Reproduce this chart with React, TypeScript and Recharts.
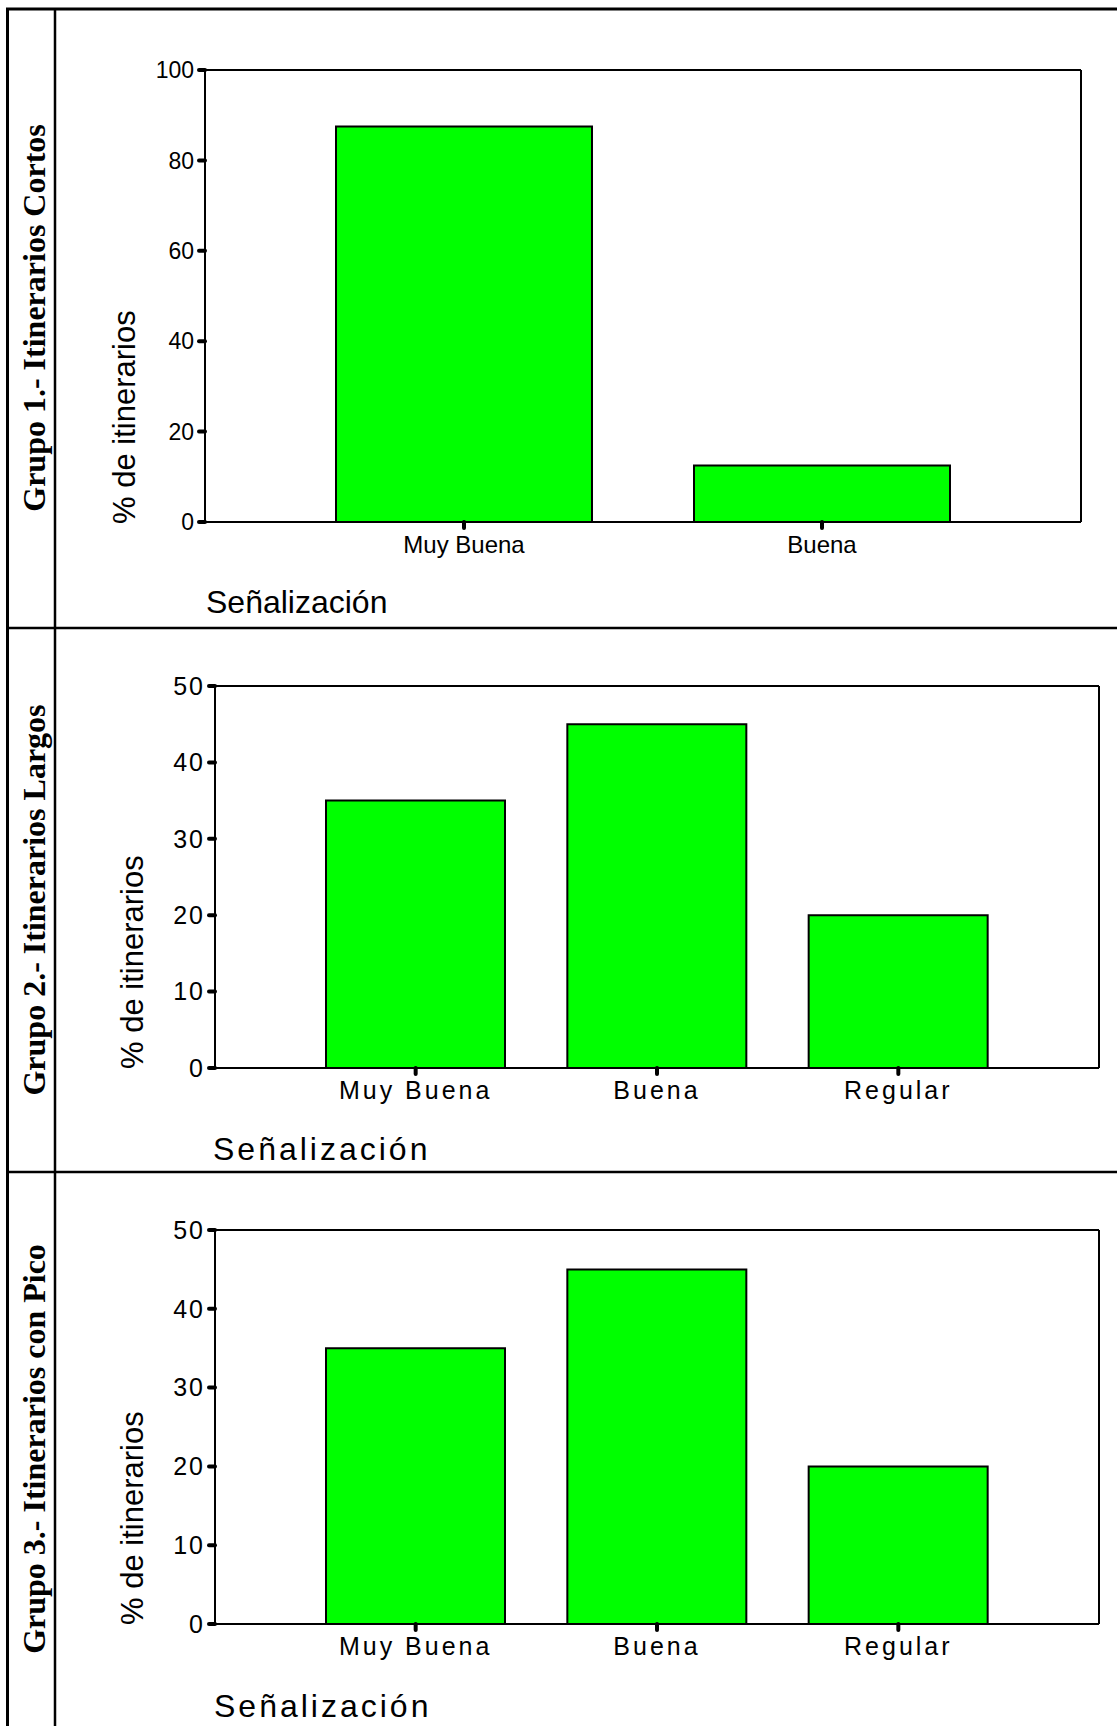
import React from "react";
import { Bar, BarChart, XAxis, YAxis } from "recharts";

const categoriesCortos = ["Muy Buena", "Buena"];
const valuesCortos = [87.5, 12.5];
const categoriesLargos = ["Muy Buena", "Buena", "Regular"];
const valuesLargos = [35, 45, 20];
const categoriesPico = ["Muy Buena", "Buena", "Regular"];
const valuesPico = [35, 45, 20];
const ticksCortos = [0, 20, 40, 60, 80, 100];
const ticksLargos = [0, 10, 20, 30, 40, 50];
const groupTitles = [
  "Grupo 1.- Itinerarios Cortos",
  "Grupo 2.- Itinerarios Largos",
  "Grupo 3.- Itinerarios con Pico",
];
const yTitle = "% de itinerarios";
const xTitle = "Señalización";

const SANS = "'Liberation Sans', Arial, sans-serif";
const SERIF = "'Liberation Serif', 'Times New Roman', serif";
const GREEN = "#00ff00";

// axis boxes reserved inside the chart; margins below are reduced by these
const Y_W = 60;
const X_H = 40;

type PanelProps = {
  categories: string[];
  values: number[];
  ticks: number[];
  top: number;
  height: number;
  plot: { top: number; right: number; bottom: number; left: number };
  barSize: number;
  xFont: number;
  yFont: number;
  xSpacing: number;
  ySpacing: number;
  xTickMargin: number;
  yTickMargin: number;
};

function Panel(p: PanelProps) {
  const data = p.categories.map((c, i) => ({ cat: c, pct: p.values[i] }));
  const max = p.ticks[p.ticks.length - 1];
  const frame = { stroke: "#000", strokeWidth: 2 };
  const tickLine = { stroke: "#000", strokeWidth: 4, strokeLinecap: "round" as const };
  const margin = {
    top: p.plot.top - 1,
    right: p.plot.right - 1,
    bottom: p.plot.bottom - X_H,
    left: p.plot.left - Y_W,
  };
  return (
    <div style={{ position: "absolute", left: 0, top: p.top }}>
      <BarChart width={1117} height={p.height} data={data} margin={margin} barSize={p.barSize}>
        <XAxis
          dataKey="cat"
          height={X_H}
          padding={{ left: 80, right: 80 }}
          axisLine={frame}
          tickLine={tickLine}
          tickSize={6}
          tickMargin={p.xTickMargin}
          interval={0}
          tick={{ fill: "#000", fontSize: p.xFont, fontFamily: SANS, style: { letterSpacing: p.xSpacing } }}
        />
        <XAxis
          xAxisId="top"
          orientation="top"
          dataKey="cat"
          height={1}
          axisLine={frame}
          tick={false}
          tickLine={false}
        />
        <YAxis
          width={Y_W}
          domain={[0, max]}
          ticks={p.ticks}
          axisLine={frame}
          tickLine={tickLine}
          tickSize={6}
          tickMargin={p.yTickMargin}
          tick={{ fill: "#000", fontSize: p.yFont, fontFamily: SANS, style: { letterSpacing: p.ySpacing } }}
        />
        <YAxis
          yAxisId="right"
          orientation="right"
          width={1}
          domain={[0, max]}
          axisLine={frame}
          tick={false}
          tickLine={false}
        />
        <Bar dataKey="pct" fill={GREEN} stroke="#000" strokeWidth={2} isAnimationActive={false} />
      </BarChart>
    </div>
  );
}

export default function App() {
  const rowCenters = [318, 900, 1449];
  const yTitles = [
    { x: 135, y: 524 },
    { x: 143, y: 1069 },
    { x: 143, y: 1625 },
  ];
  const xTitles = [
    { x: 206, y: 613, ls: 0 },
    { x: 213, y: 1160, ls: 3 },
    { x: 214, y: 1717, ls: 3 },
  ];
  return (
    <div style={{ position: "absolute", left: 0, top: 0, width: 1117, height: 1726, background: "#fff", overflow: "hidden" }}>
      <svg width={1117} height={1726} style={{ position: "absolute", left: 0, top: 0 }}>
        <line x1={7.5} y1={9} x2={7.5} y2={1726} stroke="#000" strokeWidth={3} />
        <line x1={6} y1={9} x2={1117} y2={9} stroke="#000" strokeWidth={3} />
        <line x1={55} y1={9} x2={55} y2={1726} stroke="#000" strokeWidth={2.5} />
        <line x1={6} y1={628} x2={1117} y2={628} stroke="#000" strokeWidth={2.5} />
        <line x1={6} y1={1172} x2={1117} y2={1172} stroke="#000" strokeWidth={2.5} />
        {groupTitles.map((t, i) => (
          <text
            key={t}
            transform={`translate(45,${rowCenters[i]}) rotate(-90)`}
            textAnchor="middle"
            fontFamily={SERIF}
            fontWeight="bold"
            fontSize={32}
            fill="#000"
          >
            {t}
          </text>
        ))}
        {yTitles.map((t, i) => (
          <text
            key={i}
            transform={`translate(${t.x},${t.y}) rotate(-90)`}
            textAnchor="start"
            fontFamily={SANS}
            fontSize={31}
            fill="#000"
          >
            {yTitle}
          </text>
        ))}
        {xTitles.map((t, i) => (
          <text key={i} x={t.x} y={t.y} fontFamily={SANS} fontSize={32} fill="#000" style={{ letterSpacing: t.ls }}>
            {xTitle}
          </text>
        ))}
      </svg>
      <Panel
        categories={categoriesCortos}
        values={valuesCortos}
        ticks={ticksCortos}
        top={0}
        height={628}
        plot={{ top: 70, right: 36, bottom: 106, left: 205 }}
        barSize={256}
        xFont={24}
        yFont={23}
        xSpacing={0}
        ySpacing={0}
        xTickMargin={8}
        yTickMargin={5}
      />
      <Panel
        categories={categoriesLargos}
        values={valuesLargos}
        ticks={ticksLargos}
        top={628}
        height={544}
        plot={{ top: 58, right: 18, bottom: 104, left: 215 }}
        barSize={179}
        xFont={25}
        yFont={25}
        xSpacing={3}
        ySpacing={2}
        xTickMargin={7}
        yTickMargin={4}
      />
      <Panel
        categories={categoriesPico}
        values={valuesPico}
        ticks={ticksLargos}
        top={1172}
        height={554}
        plot={{ top: 58, right: 18, bottom: 102, left: 215 }}
        barSize={179}
        xFont={25}
        yFont={25}
        xSpacing={3}
        ySpacing={2}
        xTickMargin={7}
        yTickMargin={4}
      />
    </div>
  );
}
